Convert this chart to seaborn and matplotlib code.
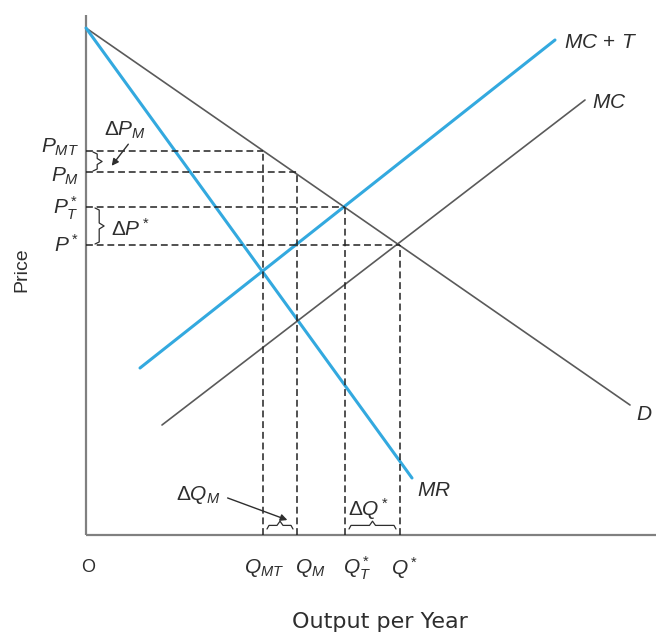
import numpy as np
import pandas as pd
import matplotlib
matplotlib.use("Agg")
import matplotlib.pyplot as plt
import seaborn as sns

# ---- data (x = output, y = price) ----
curve_names = ["D", "MR", "MC", "MC + T"]
curve_q = [[0, 544], [0, 326], [76, 499], [54, 469]]
curve_p = [[507, 130], [507, 57], [110, 435], [167, 495]]
curve_colors = ["#5a5a5a", "#33a9df", "#5a5a5a", "#33a9df"]
curve_widths = [1.2, 2.2, 1.2, 2.2]

q_levels = [177, 211, 259, 314]
p_levels = [384, 363, 328, 290]
q_labels = [r"$Q_{MT}$", r"$Q_M$", r"$Q_T^*$", r"$Q^*$"]
p_labels = [r"$P_{MT}$", r"$P_M$", r"$P_T^*$", r"$P^*$"]

sns.set_style("white")
plt.rcParams['font.family'] = ['Liberation Sans', 'DejaVu Sans']
plt.rcParams['mathtext.fontset'] = 'custom'
plt.rcParams['mathtext.it'] = 'Liberation Sans:italic'
plt.rcParams['mathtext.rm'] = 'Liberation Sans'
plt.rcParams['mathtext.bf'] = 'Liberation Sans:bold'

fig = plt.figure(figsize=(6.56, 6.35), dpi=100)
ax = fig.add_axes([0, 0, 1, 1])

# axes lines
ax.plot([0, 0], [0, 520], color="#808080", lw=1.6, solid_capstyle="butt")
ax.plot([0, 570], [0, 0], color="#808080", lw=1.6, solid_capstyle="butt")

rows = []
for n, qs, ps in zip(curve_names, curve_q, curve_p):
    for q, p in zip(qs, ps):
        rows.append({"curve": n, "Q": q, "P": p})
df = pd.DataFrame(rows)
for n, c, w in zip(curve_names, curve_colors, curve_widths):
    sns.lineplot(data=df[df.curve == n], x="Q", y="P", color=c, lw=w, ax=ax,
                 sort=False, estimator=None)
ax.set_xlim(-86, 570)
ax.set_ylim(-100, 535)
ax.axis("off")

# dashed guides
for q, p in zip(q_levels, p_levels):
    ax.plot([0, q], [p, p], color="#222222", lw=1.1, ls=(0, (4.5, 2.5)))
    ax.plot([q, q], [0, p], color="#222222", lw=1.1, ls=(0, (4.5, 2.5)))

fs = 15
tc = "#2e2e2e"
# price labels
for p, lab, dy in zip(p_levels, p_labels, [4, -4, -1, 0]):
    ax.text(-7, p + dy, lab, ha="right", va="center", fontsize=fs, color=tc)
# quantity labels
for q, lab, dx in zip(q_levels, q_labels, [1, 13, 12, 5]):
    ax.text(q + dx, -33, lab, ha="center", va="center", fontsize=fs, color=tc)
ax.text(2, -33, "O", ha="center", va="center", fontsize=13, color=tc)

# curve labels
ax.text(478, 493, r"$MC\,+\,T$", ha="left", va="center", fontsize=fs, color=tc)
ax.text(506, 432, r"$MC$", ha="left", va="center", fontsize=fs, color=tc)
ax.text(550, 121, r"$D$", ha="left", va="center", fontsize=fs, color=tc)
ax.text(331, 45, r"$MR$", ha="left", va="center", fontsize=fs, color=tc)

# delta labels
ax.text(18, 405, r"$\Delta P_M$", ha="left", va="center", fontsize=fs, color=tc)
ax.text(25, 306, r"$\Delta P^*$", ha="left", va="center", fontsize=fs, color=tc)
ax.text(90, 40, r"$\Delta Q_M$", ha="left", va="center", fontsize=fs, color=tc)
ax.text(262, 26, r"$\Delta Q^*$", ha="left", va="center", fontsize=fs, color=tc)

ax.annotate("", xy=(24, 367), xytext=(44, 393),
            arrowprops=dict(arrowstyle="-|>", color=tc, lw=1.0, mutation_scale=10))
ax.annotate("", xy=(204, 14), xytext=(139, 38),
            arrowprops=dict(arrowstyle="-|>", color=tc, lw=1.0, mutation_scale=10))


def vbrace(x, y0, y1, w):
    ym = (y0 + y1) / 2
    xs = [x, x + w * 0.6, x + w * 0.6, x + w * 1.3, x + w * 0.6, x + w * 0.6, x]
    ys = [y1 - 1, y1 - 3, ym + 3, ym, ym - 3, y0 + 3, y0 + 1]
    ax.plot(xs, ys, color=tc, lw=0.9, solid_joinstyle="round")


def hbrace(y, x0, x1, h):
    xm = (x0 + x1) / 2
    xs = [x0 + 1, x0 + 3, xm - 3, xm, xm + 3, x1 - 3, x1 - 1]
    ys = [y, y + h * 0.6, y + h * 0.6, y + h * 1.3, y + h * 0.6, y + h * 0.6, y]
    ax.plot(xs, ys, color=tc, lw=0.9, solid_joinstyle="round")


vbrace(7, p_levels[1], p_levels[0], 7)
vbrace(9, p_levels[3], p_levels[2], 7)
hbrace(6, q_levels[0] + 3, q_levels[1] - 3, 6)
hbrace(6, q_levels[2] + 3, q_levels[3] - 3, 6)

ax.text(-64, 265, "Price", rotation=90, ha="center", va="center", fontsize=14,
        color=tc, fontstretch="condensed")
ax.text(294, -87, "Output per Year", ha="center", va="center", fontsize=16,
        color=tc, family="DejaVu Sans")

fig.savefig("out.png", dpi=100)
